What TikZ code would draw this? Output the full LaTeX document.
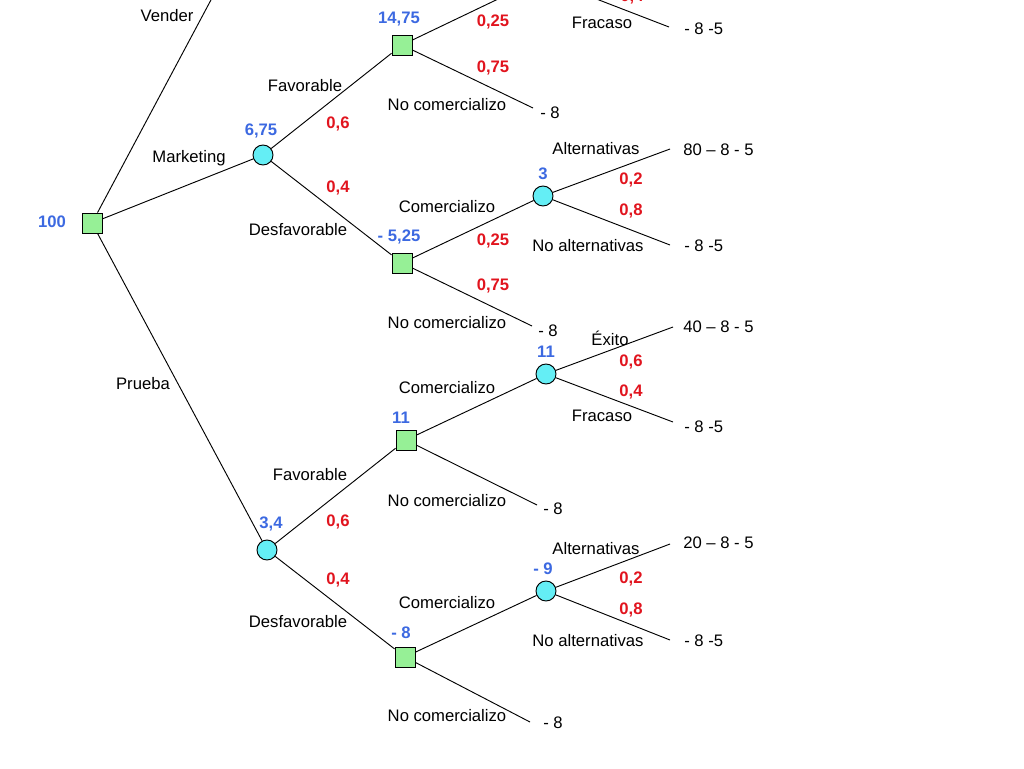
\documentclass[tikz,border=0pt]{standalone}
\usepackage{fontspec}
\setmainfont{Liberation Sans}
\usetikzlibrary{positioning}
\definecolor{valblue}{RGB}{60,105,225}
\definecolor{probred}{RGB}{225,20,30}
\definecolor{decgreen}{RGB}{150,240,150}
\definecolor{chancecyan}{RGB}{100,238,245}
\tikzset{
	txt/.style={font=\fontsize{12.5pt}{14pt}\selectfont,inner sep=0pt},
	val/.style={txt,text=valblue,font=\fontsize{12.5pt}{14pt}\selectfont\bfseries},
	prob/.style={txt,text=probred,font=\fontsize{12.5pt}{14pt}\selectfont\bfseries},
	leaf/.style={txt,anchor=west},
	decision/.style={draw,fill=decgreen,minimum size=15pt,inner sep=0pt,line width=0.7pt},
	chance/.style={draw,circle,fill=chancecyan,minimum size=15pt,inner sep=0pt,line width=0.7pt},
	branch/.style={line width=0.7pt}
}
\begin{document}
\begin{tikzpicture}[x=0.75pt,y=-0.75pt]
	\useasboundingbox (0,0) rectangle (1024,768);
	\clip (0,0) rectangle (1024,768);
	\node[decision] (root) at (92,223) {};
	\node[chance] (mk) at (263,155) {};
	\node[decision] (mkf) at (402,45) {};
	\node[decision] (mkd) at (402,263) {};
	\node[chance] (mkfc) at (542,-22) {};
	\node[chance] (mkdc) at (543,196) {};
	\node[chance] (pr) at (267,550) {};
	\node[decision] (prf) at (406,440) {};
	\node[decision] (prd) at (405,657) {};
	\node[chance] (prfc) at (546,374) {};
	\node[chance] (prdc) at (546,591) {};
	\coordinate (vender) at (268,-107);
	\coordinate (mkfcA) at (669,-69);
	\coordinate (mkfcB) at (669,27);
	\coordinate (mkfN) at (533,108);
	\coordinate (mkdcA) at (670,149);
	\coordinate (mkdcB) at (670,245);
	\coordinate (mkdN) at (532,326);
	\coordinate (prfcA) at (673,327);
	\coordinate (prfcB) at (673,422);
	\coordinate (prfN) at (537,505);
	\coordinate (prdcA) at (670,544);
	\coordinate (prdcB) at (670,640);
	\coordinate (prdN) at (530,722);
	\draw[branch] (root) -- (vender);
	\draw[branch] (root) -- (mk);
	\draw[branch] (root) -- (pr);
	\draw[branch] (mk) -- (mkf);
	\draw[branch] (mk) -- (mkd);
	\draw[branch] (mkf) -- (mkfc);
	\draw[branch] (mkf) -- (mkfN);
	\draw[branch] (mkfc) -- (mkfcA);
	\draw[branch] (mkfc) -- (mkfcB);
	\draw[branch] (mkd) -- (mkdc);
	\draw[branch] (mkd) -- (mkdN);
	\draw[branch] (mkdc) -- (mkdcA);
	\draw[branch] (mkdc) -- (mkdcB);
	\draw[branch] (pr) -- (prf);
	\draw[branch] (pr) -- (prd);
	\draw[branch] (prf) -- (prfc);
	\draw[branch] (prf) -- (prfN);
	\draw[branch] (prfc) -- (prfcA);
	\draw[branch] (prfc) -- (prfcB);
	\draw[branch] (prd) -- (prdc);
	\draw[branch] (prd) -- (prdN);
	\draw[branch] (prdc) -- (prdcA);
	\draw[branch] (prdc) -- (prdcB);
	\node[val] (v-root) at (52,222) {100};
	\node[val] (v-mk) at (261,131) {6,75};
	\node[val] (v-mkf) at (399,19) {14,75};
	\node[val] (v-mkd) at (399,237) {- 5,25};
	\node[val] (v-mkdc) at (543,174) {3};
	\node[val] (v-pr) at (271,524) {3,4};
	\node[val] (v-prf) at (401,418) {11};
	\node[val] (v-prd) at (401,633) {- 8};
	\node[val] (v-prfc) at (546,352) {11};
	\node[val] (v-prdc) at (543,569) {- 9};
	\node[txt] (l-vender) at (167,16) {Vender};
	\node[txt] (l-mk) at (189,158) {Marketing};
	\node[txt] (l-pr) at (143,384) {Prueba};
	\node[txt] (l-mkf) at (305,86) {Favorable};
	\node[prob] (p-mkf) at (338,124) {0,6};
	\node[prob] (p-mkd) at (338,188) {0,4};
	\node[txt] (l-mkd) at (298,230) {Desfavorable};
	\node[prob] (p-mkfc) at (493,22) {0,25};
	\node[prob] (p-mkfN) at (493,68) {0,75};
	\node[txt] (l-mkfN) at (447,105) {No comercializo};
	\node[prob] (p-mkfcB) at (632,-3) {0,4};
	\node[txt] (l-mkfcB) at (602,23) {Fracaso};
	\node[txt] (l-mkdc) at (447,207) {Comercializo};
	\node[prob] (p-mkdc) at (493,241) {0,25};
	\node[prob] (p-mkdN) at (493,286) {0,75};
	\node[txt] (l-mkdN) at (447,323) {No comercializo};
	\node[txt] (l-mkdcA) at (596,149) {Alternativas};
	\node[prob] (p-mkdcA) at (631,180) {0,2};
	\node[prob] (p-mkdcB) at (631,211) {0,8};
	\node[txt] (l-mkdcB) at (588,246) {No alternativas};
	\node[txt] (l-prf) at (310,475) {Favorable};
	\node[prob] (p-prf) at (338,522) {0,6};
	\node[prob] (p-prd) at (338,580) {0,4};
	\node[txt] (l-prd) at (298,622) {Desfavorable};
	\node[txt] (l-prfc) at (447,388) {Comercializo};
	\node[txt] (l-prfN) at (447,501) {No comercializo};
	\node[txt] (l-prfcA) at (610,338) {Éxito};
	\node[prob] (p-prfcA) at (631,362) {0,6};
	\node[prob] (p-prfcB) at (631,392) {0,4};
	\node[txt] (l-prfcB) at (602,416) {Fracaso};
	\node[txt] (l-prdc) at (447,603) {Comercializo};
	\node[txt] (l-prdN) at (447,716) {No comercializo};
	\node[txt] (l-prdcA) at (596,549) {Alternativas};
	\node[prob] (p-prdcA) at (631,579) {0,2};
	\node[prob] (p-prdcB) at (631,610) {0,8};
	\node[txt] (l-prdcB) at (588,641) {No alternativas};
	\node[leaf] (o-mkfcB) at (684,29) {- 8 -5};
	\node[leaf] (o-mkfN) at (540,113) {- 8};
	\node[leaf] (o-mkdcA) at (683,150) {80 – 8 - 5};
	\node[leaf] (o-mkdcB) at (684,246) {- 8 -5};
	\node[leaf] (o-mkdN) at (538,331) {- 8};
	\node[leaf] (o-prfcA) at (683,327) {40 – 8 - 5};
	\node[leaf] (o-prfcB) at (684,427) {- 8 -5};
	\node[leaf] (o-prfN) at (543,509) {- 8};
	\node[leaf] (o-prdcA) at (683,543) {20 – 8 - 5};
	\node[leaf] (o-prdcB) at (684,641) {- 8 -5};
	\node[leaf] (o-prdN) at (543,723) {- 8};
\end{tikzpicture}
\end{document}
